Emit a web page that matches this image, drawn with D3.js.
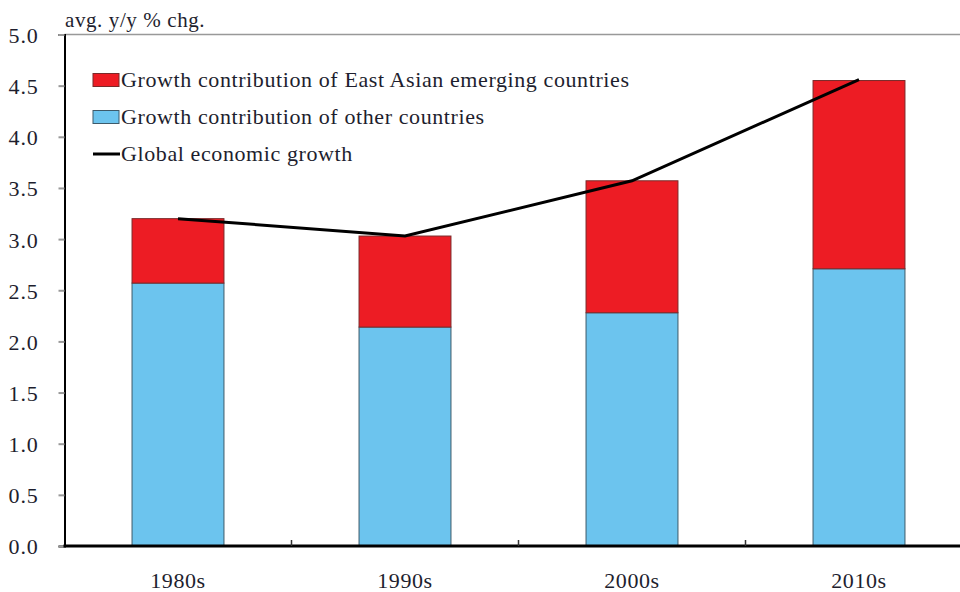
<!DOCTYPE html>
<html>
<head>
<meta charset="utf-8">
<script src="https://cdn.jsdelivr.net/npm/d3@7"></script>
<style>
  body { margin: 0; background: white; }
  svg text { font-family: "Liberation Serif", "DejaVu Serif", serif; fill: #1e1e2e; }
</style>
</head>
<body>
<script>
// data
const decades = ["1980s", "1990s", "2000s", "2010s"]
const otherCountries = [2.57, 2.14, 2.28, 2.71]
const eastAsia = [0.63, 0.89, 1.29, 1.84]
const globalGrowth = [3.20, 3.03, 3.57, 4.56]
const yTicks = [0, 0.5, 1, 1.5, 2, 2.5, 3, 3.5, 4, 4.5, 5]
const legendLabels = [
    "Growth contribution of East Asian emerging countries",
    "Growth contribution of other countries",
    "Global economic growth"
]

const [width, height] = [960, 592]
const colors = {
    red: "#ed1c24",
    blue: "#6cc4ee",
    black: "black",
    grey: "#999"
}
const font = "Liberation Serif"
const m = { left: 64.5, top: 34.5, bottom: 546 }

const svg = d3.select("body").append("svg")
    .attr("width", width)
    .attr("height", height)

const x = d3.scaleBand()
    .domain(decades)
    .range([m.left, m.left + 227 * 4])
    .paddingInner(0.595)
    .paddingOuter(0.2975)

const y = d3.scaleLinear()
    .domain([0, 5])
    .range([m.bottom, m.top])

// top border line
svg.append("line")
    .attr("x1", m.left).attr("x2", width)
    .attr("y1", y(5)).attr("y2", y(5))
    .attr("stroke", colors.grey)
    .attr("stroke-width", 1.5)

// stacked bars
const rows = decades.map((d, i) => ({ decade: d, other: otherCountries[i], east: eastAsia[i] }))
const stacked = d3.stack().keys(["other", "east"])(rows)
const fills = { other: colors.blue, east: colors.red }
const edges = { other: "#3d5a6a", east: "#7a2a2a" }

svg.append("g")
    .selectAll("g")
    .data(stacked)
    .join("g")
        .attr("fill", d => fills[d.key])
        .attr("stroke", d => edges[d.key])
        .attr("stroke-width", 1)
    .selectAll("rect")
    .data(d => d)
    .join("rect")
        .attr("x", d => x(d.data.decade))
        .attr("y", d => y(d[1]))
        .attr("width", x.bandwidth())
        .attr("height", d => y(d[0]) - y(d[1]))

// global growth line
svg.append("path")
    .datum(globalGrowth)
    .attr("fill", "none")
    .attr("stroke", colors.black)
    .attr("stroke-width", 3)
    .attr("d", d3.line()
        .x((d, i) => x(decades[i]) + x.bandwidth() / 2)
        .y(d => y(d)))

// y axis
const yAxis = svg.append("g")
    .attr("transform", `translate(${m.left},0)`)
    .call(d3.axisLeft(y).tickValues(yTicks).tickFormat(d3.format(".1f")).tickSize(6).tickPadding(20))
yAxis.select(".domain").attr("stroke", colors.black).attr("stroke-width", 2)
yAxis.selectAll(".tick line").attr("stroke", colors.grey).attr("stroke-width", 2)
yAxis.selectAll(".tick text")
    .style("font-family", font)
    .style("font-size", "22px")
    .style("letter-spacing", "0.8px")
    .attr("dy", "0.36em")

// x axis
const xAxis = svg.append("g")
    .attr("transform", `translate(0,${m.bottom})`)
xAxis.append("line")
    .attr("x1", m.left - 1).attr("x2", width)
    .attr("stroke", colors.black)
    .attr("stroke-width", 3)
xAxis.selectAll("line.sep")
    .data(decades.slice(1))
    .join("line")
        .attr("class", "sep")
        .attr("x1", d => x(d) - x.step() * x.paddingInner() / 2)
        .attr("x2", d => x(d) - x.step() * x.paddingInner() / 2)
        .attr("y1", 0).attr("y2", -6)
        .attr("stroke", "#333")
        .attr("stroke-width", 1.5)
xAxis.selectAll("text")
    .data(decades)
    .join("text")
        .attr("x", d => x(d) + x.bandwidth() / 2)
        .attr("y", 42)
        .attr("text-anchor", "middle")
        .style("font-family", font)
        .style("font-size", "22px")
        .style("letter-spacing", "0.6px")
        .text(d => d)

// unit label
svg.append("text")
    .attr("x", 65)
    .attr("y", 27)
    .style("font-family", font)
    .style("font-size", "21px")
    .style("letter-spacing", "0.6px")
    .text("avg. y/y % chg.")

// legend
const legend = svg.append("g").attr("transform", "translate(93,80)")
const legendItems = legend.selectAll("g")
    .data(legendLabels)
    .join("g")
        .attr("transform", (d, i) => `translate(0,${i * 37})`)
legendItems.filter((d, i) => i < 2)
    .append("rect")
        .attr("x", 0).attr("y", -6.5)
        .attr("width", 26).attr("height", 13)
        .attr("fill", (d, i) => i == 0 ? colors.red : colors.blue)
        .attr("stroke", (d, i) => i == 0 ? edges.east : edges.other)
legendItems.filter((d, i) => i == 2)
    .append("line")
        .attr("x1", 0).attr("x2", 27)
        .attr("stroke", colors.black)
        .attr("stroke-width", 3)
legendItems.append("text")
    .attr("x", 28)
    .attr("y", 7)
    .style("font-family", font)
    .style("font-size", "22px")
    .style("letter-spacing", "0.6px")
    .text(d => d)
</script>
</body>
</html>
